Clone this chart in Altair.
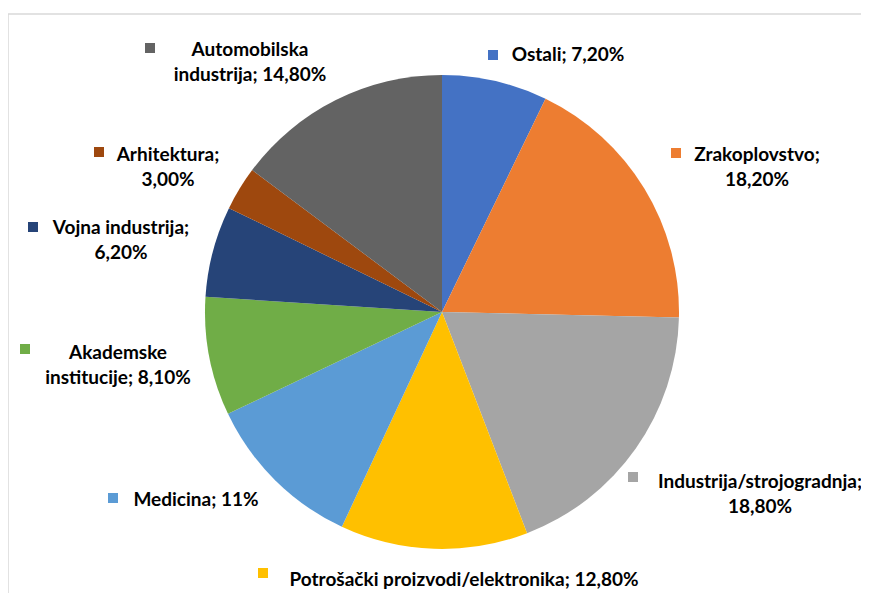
import altair as alt
import pandas as pd

categories = ["Ostali", "Zrakoplovstvo", "Industrija/strojogradnja",
              "Potrošački proizvodi/elektronika", "Medicina", "Akademske institucije",
              "Vojna industrija", "Arhitektura", "Automobilska industrija"]
values = [7.2, 18.2, 18.8, 12.8, 11.0, 8.1, 6.2, 3.0, 14.8]
colors = ["#4472C4", "#ED7D31", "#A5A5A5", "#FFC000", "#5B9BD5", "#70AD47",
          "#264478", "#9E480E", "#636363"]
label_texts = ["Ostali; 7,20%", "Zrakoplovstvo;\n18,20%", "Industrija/strojogradnja;\n18,80%",
               "Potrošački proizvodi/elektronika; 12,80%", "Medicina; 11%",
               "Akademske\ninstitucije; 8,10%", "Vojna industrija;\n6,20%",
               "Arhitektura;\n3,00%", "Automobilska\nindustrija; 14,80%"]

# layout (page pixels): first-line centre of each label and legend-key position
label_x = [568, 757, 760, 464, 196, 118, 121, 168, 250]
label_y = [55, 155, 482, 580, 500, 353, 228, 155, 50]
key_x = [493, 676, 633, 263, 113, 25, 33, 99, 150]
key_y = [55, 153, 477, 573, 498, 349, 227, 152, 48]

M = 8
CX, CY, R = 442 - M, 312 - M, 237

df = pd.DataFrame({"cat": categories, "val": values, "order": list(range(len(values)))})
lab = pd.DataFrame({"cat": categories, "text": label_texts,
                    "lx": [v - M for v in label_x], "ly": [v - M for v in label_y],
                    "kx": [v - M for v in key_x], "ky": [v - M for v in key_y]})

color_scale = alt.Scale(domain=categories, range=colors)

frame = alt.Chart(pd.DataFrame({"a": [0]})).mark_rect(
    fill="white", stroke="#d9d9d9", strokeWidth=1.5
).encode(x=alt.value(0), x2=alt.value(900), y=alt.value(6), y2=alt.value(700))

pie = alt.Chart(df).mark_arc(radius=R).encode(
    theta=alt.Theta("val:Q", stack=True),
    order=alt.Order("order:Q"),
    color=alt.Color("cat:N", scale=color_scale, legend=None),
    x=alt.value(CX), y=alt.value(CY),
)

keys = alt.Chart(lab).mark_square(size=100, opacity=1, filled=True).encode(
    x=alt.X("kx:Q", scale=alt.Scale(domain=[0, 853], range=[0, 853]), axis=None),
    y=alt.Y("ky:Q", scale=alt.Scale(domain=[0, 585], range=[0, 585]), axis=None),
    color=alt.Color("cat:N", scale=color_scale, legend=None),
)

texts = alt.Chart(lab).mark_text(
    font="Lato", fontWeight="bold", fontSize=19, color="#000000",
    align="center", baseline="middle", lineBreak="\n", lineHeight=25
).encode(
    x=alt.X("lx:Q", scale=alt.Scale(domain=[0, 853], range=[0, 853]), axis=None),
    y=alt.Y("ly:Q", scale=alt.Scale(domain=[0, 585], range=[0, 585]), axis=None),
    text="text:N",
)

chart = alt.layer(frame, pie, keys, texts).properties(
    width=853, height=585, padding=0, autosize=alt.AutoSizeParams(type="none")
).configure_view(stroke=None)

chart.save("out.html", embed_options={"renderer": "svg", "actions": False})
